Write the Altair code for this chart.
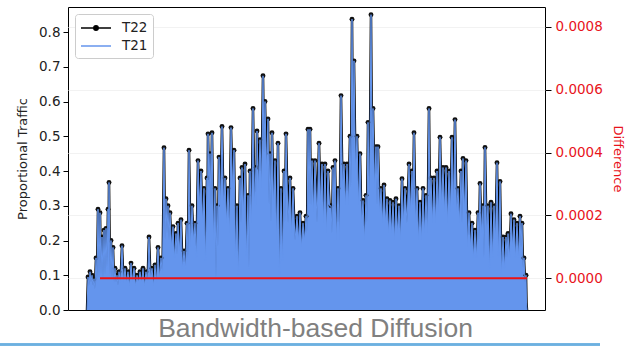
import altair as alt
import pandas as pd

# sample positions of the local maxima (samples counted from the start of the trace)
peak_t = [1, 3, 5, 7, 9, 11, 13, 15, 17, 19, 21, 22, 24, 26, 28, 30, 32, 35, 38, 41, 44, 47, 50, 53, 56, 59,
          62, 65, 68, 71, 74, 77, 79, 81, 83, 86, 89, 91, 94, 97, 100, 102, 105, 108, 111, 114, 117, 120, 121,
          123, 125, 128, 130, 132, 135, 138, 141, 144, 147, 150, 153, 155, 158, 161, 163, 166, 169, 170, 173,
          176, 178, 181, 183, 185, 188, 191, 194, 197, 199, 203, 206, 210, 213, 216, 219, 221, 223, 225, 228,
          232, 235, 238, 241, 244, 246, 248, 251, 254, 257, 260, 263, 265, 267, 270, 273, 276, 279, 281, 284,
          286, 289, 291, 294, 297, 300, 303, 306, 309, 312, 315, 318, 322, 325, 327, 330, 333, 336, 339, 342,
          344, 347, 350, 353, 356, 359, 362, 365, 368, 371, 374, 376, 379, 382, 385, 388, 391, 393, 396, 398,
          401, 404, 407, 410, 413, 416, 419, 421, 424, 427, 430, 433, 435, 437, 439]
# T21 proportional traffic at those maxima
t21_peaks = [0.095, 0.11, 0.10, 0.09, 0.15, 0.29, 0.28, 0.21, 0.23, 0.235, 0.29, 0.367, 0.20, 0.18, 0.12, 0.10,
             0.11, 0.185, 0.12, 0.11, 0.135, 0.12, 0.10, 0.11, 0.12, 0.11, 0.21, 0.12, 0.13, 0.18, 0.15, 0.467,
             0.32, 0.30, 0.28, 0.24, 0.22, 0.25, 0.26, 0.17, 0.25, 0.46, 0.30, 0.25, 0.43, 0.40, 0.35, 0.38,
             0.507, 0.45, 0.51, 0.35, 0.30, 0.44, 0.528, 0.38, 0.35, 0.525, 0.46, 0.30, 0.38, 0.41, 0.42, 0.33,
             0.40, 0.58, 0.41, 0.515, 0.49, 0.674, 0.60, 0.55, 0.45, 0.51, 0.43, 0.48, 0.35, 0.40, 0.507, 0.38,
             0.35, 0.27, 0.28, 0.25, 0.27, 0.52, 0.52, 0.43, 0.43, 0.48, 0.42, 0.42, 0.40, 0.30, 0.41, 0.43,
             0.35, 0.617, 0.42, 0.42, 0.50, 0.837, 0.717, 0.50, 0.45, 0.315, 0.33, 0.54, 0.85, 0.58, 0.47, 0.47,
             0.35, 0.36, 0.32, 0.315, 0.31, 0.32, 0.30, 0.378, 0.35, 0.42, 0.40, 0.51, 0.35, 0.31, 0.35, 0.33,
             0.58, 0.38, 0.38, 0.40, 0.497, 0.41, 0.41, 0.40, 0.497, 0.548, 0.35, 0.40, 0.436, 0.43, 0.28, 0.25,
             0.23, 0.28, 0.364, 0.30, 0.468, 0.30, 0.31, 0.30, 0.424, 0.37, 0.21, 0.21, 0.22, 0.277, 0.26, 0.25,
             0.27, 0.25, 0.15, 0.10]
# T21 local minima following each maximum
t21_dips = [0.07, 0.08, 0.07, 0.06, 0.08, 0.09, 0.10, 0.09, 0.10, 0.12, 0.15, 0.10, 0.09, 0.08, 0.08, 0.07,
            0.08, 0.08, 0.08, 0.07, 0.08, 0.07, 0.08, 0.08, 0.07, 0.08, 0.09, 0.07, 0.08, 0.09, 0.10, 0.20,
            0.22, 0.20, 0.18, 0.15, 0.16, 0.17, 0.12, 0.12, 0.15, 0.18, 0.20, 0.15, 0.30, 0.25, 0.14, 0.28,
            0.35, 0.30, 0.20, 0.09, 0.18, 0.30, 0.30, 0.25, 0.22, 0.35, 0.15, 0.10, 0.25, 0.28, 0.15, 0.12,
            0.25, 0.30, 0.30, 0.35, 0.35, 0.45, 0.40, 0.30, 0.25, 0.30, 0.20, 0.10, 0.14, 0.25, 0.25, 0.22,
            0.20, 0.20, 0.18, 0.20, 0.22, 0.30, 0.30, 0.28, 0.25, 0.30, 0.25, 0.22, 0.30, 0.22, 0.28, 0.20,
            0.20, 0.35, 0.30, 0.30, 0.35, 0.45, 0.40, 0.30, 0.25, 0.20, 0.25, 0.30, 0.45, 0.35, 0.30, 0.28,
            0.25, 0.25, 0.22, 0.22, 0.20, 0.22, 0.20, 0.25, 0.25, 0.28, 0.30, 0.25, 0.20, 0.20, 0.22, 0.22,
            0.30, 0.25, 0.25, 0.28, 0.30, 0.28, 0.25, 0.28, 0.30, 0.28, 0.25, 0.25, 0.28, 0.18, 0.18, 0.15,
            0.15, 0.20, 0.22, 0.15, 0.22, 0.12, 0.15, 0.20, 0.15, 0.10, 0.12, 0.15, 0.15, 0.18, 0.15, 0.15,
            0.18, 0.12, 0.08, 0.02]
# T22 is practically identical to T21 (difference ~ 0)
t22_peaks = list(t21_peaks)
t22_dips = list(t21_dips)
trace_start, trace_end = 0, 440

diff_t = [13, 100, 200, 300, 440]
diff_v = [0.0, 0.0, 0.0, 0.0, 0.0]

series_names = ["T22", "T21"]
series_colors = ["black", "cornflowerblue"]

def build(peaks, dips):
    rows = [{"t": trace_start, "v": 0.0, "kind": "edge"}]
    n = min(len(peak_t), len(peaks), len(dips))
    for i in range(n):
        rows.append({"t": peak_t[i], "v": peaks[i], "kind": "peak"})
        nxt = peak_t[i + 1] if i + 1 < n else trace_end
        rows.append({"t": (peak_t[i] + nxt) / 2, "v": dips[i], "kind": "dip"})
    rows.append({"t": trace_end, "v": 0.0, "kind": "edge"})
    return pd.DataFrame(rows)

df21 = build(t21_peaks, t21_dips)
df22 = build(t22_peaks, t22_dips)
dfd = pd.DataFrame({"t": diff_t, "d": diff_v})
dleg = pd.DataFrame({"series": series_names})

W, H = 477, 303
xs = alt.Scale(domain=[-19, 458], nice=False, zero=False)
ys = alt.Scale(domain=[0, 0.872], nice=False, zero=False)
X = alt.X("t:Q", scale=xs, axis=None)

left_axis = alt.Axis(values=[0, 0.1, 0.2, 0.3, 0.4, 0.5, 0.6, 0.7, 0.8], format=".1f",
                     title="Proportional Traffic", domain=False, grid=False, tickSize=5,
                     tickColor="black", labelColor="#222222", titleColor="#222222",
                     labelFontSize=13.5, titleFontSize=13, titleFontWeight="normal",
                     labelFont="DejaVu Sans", titleFont="DejaVu Sans", labelPadding=3,
                     titlePadding=9)
Y = alt.Y("v:Q", scale=ys, axis=left_axis, title="Proportional Traffic")

t22_line = alt.Chart(df22).mark_line(color="black", strokeWidth=2.5).encode(x=X, y=Y)
t21_area = alt.Chart(df21).mark_area(color="cornflowerblue", opacity=1).encode(x=X, y=Y)
t22_pts = alt.Chart(df22).transform_filter("datum.kind == 'peak'").mark_point(
    filled=True, color="#111111", size=24, opacity=1).encode(x=X, y=Y)
t21_line = alt.Chart(df21).mark_line(color="cornflowerblue", strokeWidth=1).encode(x=X, y=Y)

dot_path = "M-1,0L2.75,0M0.6,0A0.275,0.275 0 1,0 1.15,0A0.275,0.275 0 1,0 0.6,0"
line_path = "M-1,0L2.75,0"
leg = alt.Legend(title=None, orient="none", legendX=7, legendY=7, fillColor="white",
                 strokeColor="#cccccc", cornerRadius=3, padding=5, symbolSize=256,
                 symbolStrokeWidth=1.5, labelFontSize=13.5, labelFont="DejaVu Sans",
                 labelColor="#222222", labelOffset=24, rowPadding=2, symbolOpacity=1)
legend_layer = alt.Chart(dleg).transform_filter("false").mark_point(opacity=1).encode(
    fill=alt.Fill("series:N", scale=alt.Scale(domain=series_names, range=series_colors), legend=leg),
    stroke=alt.Stroke("series:N", scale=alt.Scale(domain=series_names, range=series_colors), legend=leg),
    shape=alt.Shape("series:N", scale=alt.Scale(domain=series_names, range=[dot_path, line_path]), legend=leg),
)

left = alt.layer(t22_line, t21_area, t22_pts, t21_line, legend_layer)

right_axis = alt.Axis(orient="right", values=[0, 0.0002, 0.0004, 0.0006, 0.0008], format=".4f",
                      title="Difference", domain=False, grid=True, gridColor="#f2f2f2", tickSize=6,
                      tickColor="black", labelColor="#e8141c", titleColor="#e8141c",
                      labelFontSize=13.5, titleFontSize=13, titleFontWeight="normal",
                      labelFont="DejaVu Sans", titleFont="DejaVu Sans", labelPadding=4, titlePadding=8)
diff_line = alt.Chart(dfd).mark_line(color="#ee1111", strokeWidth=2).encode(
    x=X, y=alt.Y("d:Q", scale=alt.Scale(domain=[-0.0001006, 0.0008625], nice=False, zero=False),
                 axis=right_axis))

bottom_rule = alt.Chart(dleg).mark_rule(color="#6cb0e0", strokeWidth=2.5).encode(
    x=alt.value(-68), x2=alt.value(532), y=alt.value(337.5))

chart = alt.layer(left, diff_line, bottom_rule).resolve_scale(y="independent").properties(
    width=W, height=H,
    title=alt.Title("Bandwidth-based Diffusion", orient="bottom", anchor="middle", frame="group",
                    offset=0, dy=-30, dx=9, fontSize=26.5, font="Liberation Sans", fontWeight="normal",
                    color="#808080"),
    autosize=alt.AutoSizeParams(type="none"),
    padding={"left": 68, "top": 7, "right": 81, "bottom": 36},
).configure_view(stroke="black", strokeWidth=1)

chart.save("out.html", embed_options={"renderer": "svg", "actions": False})
